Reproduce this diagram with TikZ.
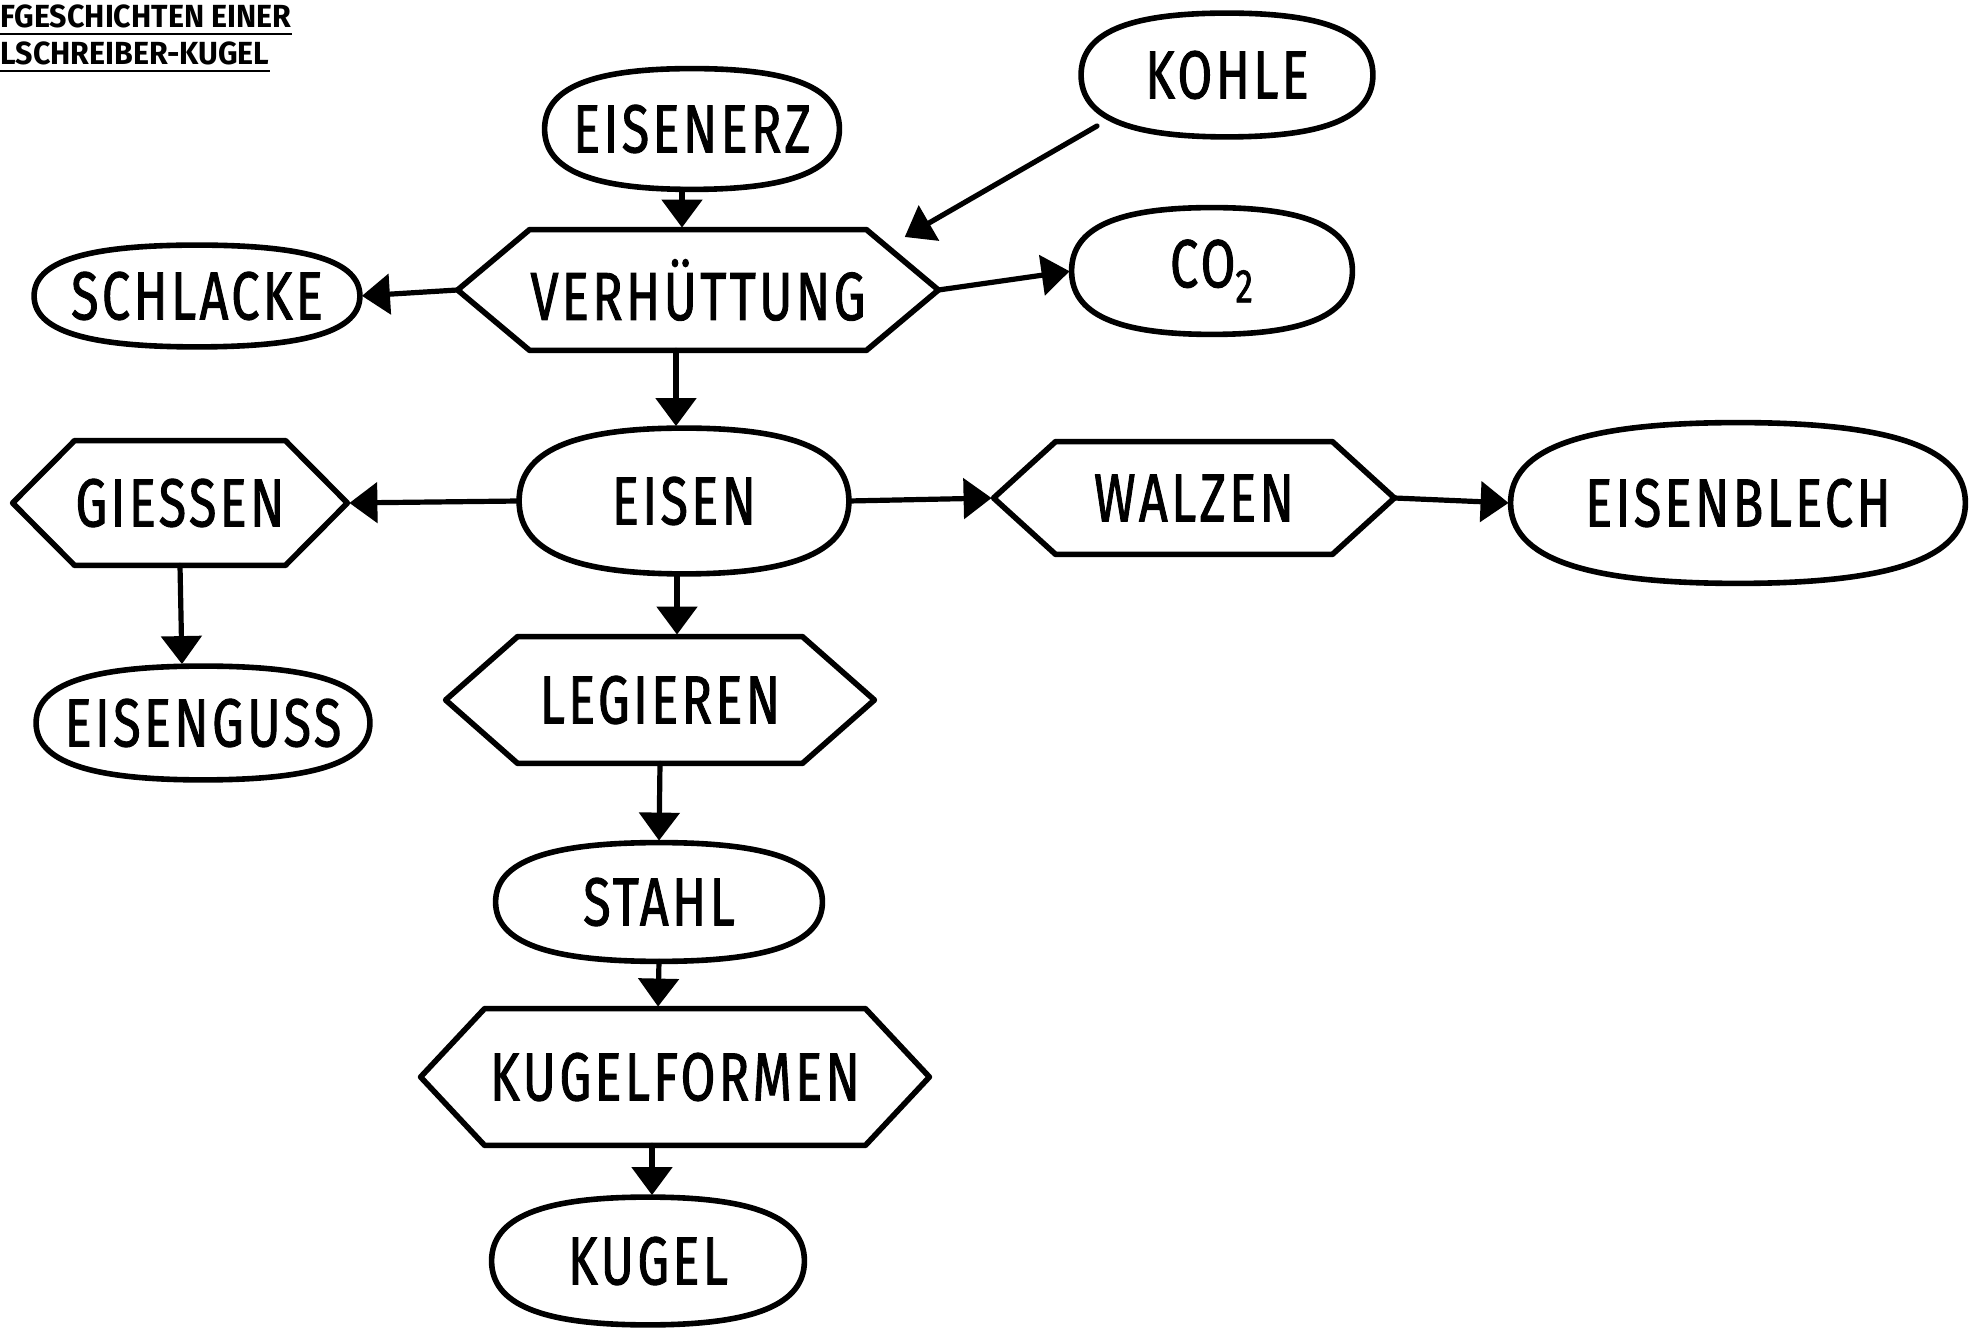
\documentclass[tikz,border=0pt]{standalone}
\usepackage{fontspec}
\setmainfont{Fira Sans}
\newfontfamily\handfont[FakeStretch=0.74,FakeBold=1.3,LetterSpace=5]{Fira Sans}
\newfontfamily\titlefont[FakeStretch=0.95]{Fira Sans}
\usetikzlibrary{arrows.meta,calc}
\tikzset{
  txt/.style={inner sep=0pt, font=\handfont\fontsize{34}{38}\selectfont},
  shapeline/.style={line width=2.8pt, line join=round},
  arr/.style={line width=2.6pt, line cap=round, shorten >=1pt,
    -{Triangle[length=14pt,width=20pt]}},
  ttl/.style={anchor=base west, inner sep=0pt,
    font=\titlefont\bfseries\fontsize{16}{18}\selectfont},
  uline/.style={line width=1.1pt}
}
% oval (superellipse-like) node: name, position, width, height, text
\newcommand\ovalnode[5]{%
  \node[txt, minimum width=#3, minimum height=#4] (#1) at (#2) {#5};
  \draw[shapeline] (#1.east)
    .. controls ($(#1.east)!0.68!(#1.north east)$) and ($(#1.north)!0.68!(#1.north east)$) .. (#1.north)
    .. controls ($(#1.north)!0.68!(#1.north west)$) and ($(#1.west)!0.68!(#1.north west)$) .. (#1.west)
    .. controls ($(#1.west)!0.68!(#1.south west)$) and ($(#1.south)!0.68!(#1.south west)$) .. (#1.south)
    .. controls ($(#1.south)!0.68!(#1.south east)$) and ($(#1.east)!0.68!(#1.south east)$) .. (#1.east) -- cycle;
}
% hexagon node: name, position, inner width, height, point extension, text
\newcommand\hexnode[6]{%
  \node[txt, minimum width=#3, minimum height=#4] (#1) at (#2) {#6};
  \draw[shapeline] (#1.north west) -- (#1.north east)
    -- ($(#1.east)+(#5,0)$) coordinate (#1R)
    -- (#1.south east) -- (#1.south west)
    -- ($(#1.west)+(-#5,0)$) coordinate (#1L) -- cycle;
}
\begin{document}
\begin{tikzpicture}[x=0.5pt,y=-0.5pt]
\useasboundingbox (0,0) rectangle (1978,1331);
\fill[white] (0,0) rectangle (1978,1331);

% title
\node[ttl] (t1) at (0,28) {FGESCHICHTEN EINER};
\node[ttl] (t2) at (0,65) {LSCHREIBER-KUGEL};
\draw[uline] ($(t1.base west)+(0,6)$) -- ($(t1.base east)+(0,6)$);
\draw[uline] ($(t2.base west)+(0,6)$) -- ($(t2.base east)+(0,6)$);

% ovals
\ovalnode{erz}{692,129}{147pt}{60pt}{EISENERZ}
\ovalnode{kohle}{1227,75}{145.5pt}{61.5pt}{KOHLE}
\ovalnode{schl}{197,296}{162.5pt}{50.5pt}{SCHLACKE}
\ovalnode{co2}{1212,271}{140pt}{63pt}{CO\textsubscript{2}}
\ovalnode{eisen}{684,501}{164.5pt}{72.5pt}{EISEN}
\ovalnode{guss}{203,723}{166.5pt}{56.5pt}{EISENGUSS}
\ovalnode{blech}{1738,503}{227pt}{80pt}{EISENBLECH}
\ovalnode{stahl}{659,902}{163pt}{59pt}{STAHL}
\ovalnode{kugel}{648,1261}{156pt}{63.5pt}{KUGEL}

% hexagons
\hexnode{verh}{698,290}{168pt}{60pt}{72}{VERHÜTTUNG}
\hexnode{giess}{180,503}{105pt}{62pt}{62}{GIESSEN}
\hexnode{walz}{1194,498}{138pt}{56pt}{62}{WALZEN}
\hexnode{leg}{660,700}{142pt}{63pt}{72}{LEGIEREN}
\hexnode{kf}{675,1077}{190pt}{68pt}{64}{KUGELFORMEN}

% connectors
\draw[arr] ($(erz.south)+(-10,0)$) -- ($(verh.north)+(-16,0)$);
\draw[arr] ($(kohle)+(-130,51)$) -- ($(verh)+(205,-52)$);
\draw[arr] (verhL) -- (schl.east);
\draw[arr] (verhR) -- (co2.west);
\draw[arr] ($(verh.south)+(-22,0)$) -- ($(eisen.north)+(-8,0)$);
\draw[arr] (eisen.west) -- (giessR);
\draw[arr] (giess.south) -- ($(guss.north)+(-21,0)$);
\draw[arr] (eisen.east) -- (walzL);
\draw[arr] (walzR) -- (blech.west);
\draw[arr] ($(eisen.south)+(-7,0)$) -- ($(leg.north)+(17,0)$);
\draw[arr] (leg.south) -- (stahl.north);
\draw[arr] (stahl.south) -- ($(kf.north)+(-17,0)$);
\draw[arr] ($(kf.south)+(-23,0)$) -- ($(kugel.north)+(4,0)$);
\end{tikzpicture}
\end{document}
